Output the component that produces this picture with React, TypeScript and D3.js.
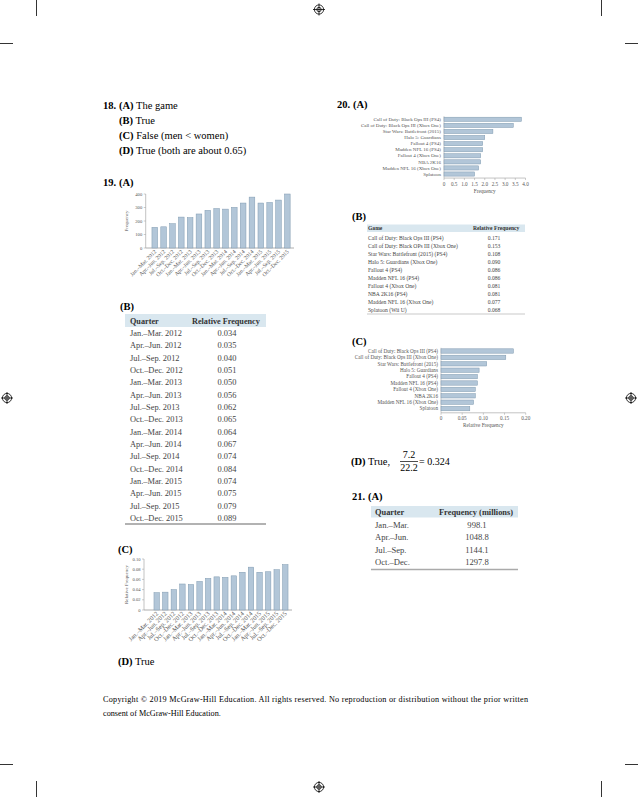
import React from 'react';
import * as d3 from 'd3';

const quarters = [
  'Jan.–Mar. 2012', 'Apr.–Jun. 2012', 'Jul.–Sep. 2012', 'Oct.–Dec. 2012',
  'Jan.–Mar. 2013', 'Apr.–Jun. 2013', 'Jul.–Sep. 2013', 'Oct.–Dec. 2013',
  'Jan.–Mar. 2014', 'Apr.–Jun. 2014', 'Jul.–Sep. 2014', 'Oct.–Dec. 2014',
  'Jan.–Mar. 2015', 'Apr.–Jun. 2015', 'Jul.–Sep. 2015', 'Oct.–Dec. 2015',
];
const quarterFreq = [153, 157, 180, 229, 225, 252, 279, 292, 288, 301, 333, 377, 333, 337, 355, 400];
const quarterRel = [0.034, 0.035, 0.040, 0.051, 0.050, 0.056, 0.062, 0.065, 0.064, 0.067, 0.074, 0.084, 0.074, 0.075, 0.079, 0.089];
const quarterRelText = ['0.034', '0.035', '0.040', '0.051', '0.050', '0.056', '0.062', '0.065', '0.064', '0.067', '0.074', '0.084', '0.074', '0.075', '0.079', '0.089'];
const yTicks19A = [0, 100, 200, 300, 400];
const yTicks19C = [0, 0.02, 0.04, 0.06, 0.08, 0.10];

const games = [
  'Call of Duty: Black Ops III (PS4)', 'Call of Duty: Black Ops III (Xbox One)', 'Star Wars: Battlefront (2015)',
  'Halo 5: Guardians', 'Fallout 4 (PS4)', 'Madden NFL 16 (PS4)', 'Fallout 4 (Xbox One)', 'NBA 2K16',
  'Madden NFL 16 (Xbox One)', 'Splatoon',
];
const gameTableNames = [
  'Call of Duty: Black Ops III (PS4)', 'Call of Duty: Black OPs III (Xbox One)', 'Star Wars: Battlefront (2015) (PS4)',
  'Halo 5: Guardians (Xbox One)', 'Fallout 4 (PS4)', 'Madden NFL 16 (PS4)', 'Fallout 4 (Xbox One)', 'NBA 2K16 (PS4)',
  'Madden NFL 16 (Xbox One)', 'Splatoon (Wii U)',
];
const gameFreq = [3.8, 3.4, 2.4, 2.0, 1.9, 1.9, 1.8, 1.8, 1.7, 1.5];
const gameRel = [0.171, 0.153, 0.108, 0.090, 0.086, 0.086, 0.081, 0.081, 0.077, 0.068];
const gameRelText = ['0.171', '0.153', '0.108', '0.090', '0.086', '0.086', '0.081', '0.081', '0.077', '0.068'];
const xTicks20A = [0, 0.5, 1.0, 1.5, 2.0, 2.5, 3.0, 3.5, 4.0];
const xTicks20C = [0, 0.05, 0.10, 0.15, 0.20];

const seasons = ['Jan.–Mar.', 'Apr.–Jun.', 'Jul.–Sep.', 'Oct.–Dec.'];
const seasonFreqText = ['998.1', '1048.8', '1144.1', '1297.8'];

const SERIF = '"Liberation Serif", "Times New Roman", serif';
const BAR_FILL = '#b2c6d8';
const BAR_STROKE = '#7f99b0';
const AXIS = '#9a9a9a';
const CHART_TEXT = '#555';
const TABLE_TEXT = '#444';
const HEADER_BG = '#d9e7ef';

type VProps = {
  labels: string[]; values: number[]; ticks: number[]; max: number;
  x0: number; x1: number; yTop: number; yBot: number; axisX: number; axisEnd: number;
  fmt: (v: number) => string; title: string; titleX: number; labelSize: number;
};

function VBarChart(p: VProps) {
  const x = d3.scaleBand<string>().domain(p.labels).range([p.x0, p.x1]).paddingInner(0.36).paddingOuter(0.3);
  const y = d3.scaleLinear().domain([0, p.max]).range([p.yBot, p.yTop]);
  const midY = (p.yTop + p.yBot) / 2;
  return (
    <g fontFamily={SERIF}>
      <line x1={p.axisX} x2={p.axisX} y1={p.yTop} y2={p.yBot} stroke={AXIS} strokeWidth={0.6} />
      <line x1={p.axisX} x2={p.axisEnd} y1={p.yBot} y2={p.yBot} stroke={AXIS} strokeWidth={0.8} />
      {p.ticks.map((t) => (
        <g key={t}>
          <line x1={p.axisX - 2} x2={p.axisX} y1={y(t)} y2={y(t)} stroke={AXIS} strokeWidth={0.5} />
          <text x={p.axisX - 3.5} y={y(t) + 1.6} fontSize={4.6} textAnchor="end" fill={CHART_TEXT}>{p.fmt(t)}</text>
        </g>
      ))}
      {p.labels.map((l, i) => (
        <rect key={l} x={x(l)} y={y(p.values[i])} width={x.bandwidth()} height={p.yBot - y(p.values[i])}
          fill={BAR_FILL} stroke={BAR_STROKE} strokeWidth={0.5} />
      ))}
      {p.labels.map((l) => {
        const cx = (x(l) as number) + x.bandwidth() / 2 + 2;
        const cy = p.yBot + 4;
        return (
          <text key={l} x={cx} y={cy} fontSize={p.labelSize} textAnchor="end" fill={CHART_TEXT}
            transform={`rotate(-45 ${cx} ${cy})`}>{l}</text>
        );
      })}
      <text x={p.titleX} y={midY} fontSize={5} textAnchor="middle" fill={CHART_TEXT}
        transform={`rotate(-90 ${p.titleX} ${midY})`}>{p.title}</text>
    </g>
  );
}

type HProps = {
  labels: string[]; values: number[]; ticks: number[]; max: number;
  x0: number; x1: number; yFirst: number; step: number; barH: number;
  fmt: (v: number) => string; title: string; labelSize: number;
};

function HBarChart(p: HProps) {
  const x = d3.scaleLinear().domain([0, p.max]).range([p.x0, p.x1]);
  const n = p.labels.length;
  const y = d3.scaleBand<string>().domain(p.labels)
    .range([p.yFirst - p.step / 2, p.yFirst - p.step / 2 + p.step * n]).paddingInner(1 - p.barH / p.step).paddingOuter((1 - p.barH / p.step) / 2);
  const axisY = p.yFirst - p.step / 2 + p.step * n + 1;
  return (
    <g fontFamily={SERIF}>
      <line x1={p.x0} x2={p.x0} y1={p.yFirst - p.step / 2} y2={axisY} stroke={AXIS} strokeWidth={0.5} />
      <line x1={p.x0} x2={p.x1} y1={axisY} y2={axisY} stroke={AXIS} strokeWidth={0.6} />
      {p.ticks.map((t) => (
        <g key={t}>
          <line x1={x(t)} x2={x(t)} y1={axisY} y2={axisY + 2} stroke={AXIS} strokeWidth={0.5} />
          <text x={x(t)} y={axisY + 7.5} fontSize={5.2} textAnchor="middle" fill={CHART_TEXT}>{p.fmt(t)}</text>
        </g>
      ))}
      {p.labels.map((l, i) => (
        <g key={l}>
          <rect x={p.x0} y={y(l)} width={x(p.values[i]) - p.x0} height={y.bandwidth()}
            fill={BAR_FILL} stroke={BAR_STROKE} strokeWidth={0.5} />
          <text x={p.x0 - 3} y={(y(l) as number) + y.bandwidth() / 2 + 1.7} fontSize={p.labelSize} textAnchor="end" fill={CHART_TEXT}>{l}</text>
        </g>
      ))}
      <text x={(p.x0 + p.x1) / 2} y={axisY + 14.5} fontSize={5.2} textAnchor="middle" fill={CHART_TEXT}>{p.title}</text>
    </g>
  );
}

function Target({ cx, cy }: { cx: number; cy: number }) {
  return (
    <g stroke="#000" fill="none" strokeWidth={0.8}>
      <circle cx={cx} cy={cy} r={4.6} />
      <circle cx={cx} cy={cy} r={2.2} />
      <line x1={cx - 6} x2={cx + 6} y1={cy} y2={cy} />
      <line x1={cx} x2={cx} y1={cy - 6} y2={cy + 6} />
    </g>
  );
}

function Label({ x, y, num, letter, text, numX }: { x: number; y: number; num?: string; letter: string; text?: string; numX?: number }) {
  return (
    <text x={x} y={y} fontFamily={SERIF} fontSize={10.5} fill="#000">
      {num ? <tspan x={numX} fontWeight="bold">{num}</tspan> : null}
      <tspan x={x} fontWeight="bold">{letter}</tspan>
      {text ? <tspan> {text}</tspan> : null}
    </text>
  );
}

export default function App() {
  const t19 = { x0: 125, x1: 266, hTop: 314, hBot: 327, row0: 333, step: 12.33 };
  const rowY19 = d3.scaleLinear().domain([0, 1]).range([t19.row0, t19.row0 + t19.step]);
  const t20 = { x0: 367, x1: 525, hTop: 224.5, hBot: 232, row0: 237.5, step: 8.1 };
  const rowY20 = d3.scaleLinear().domain([0, 1]).range([t20.row0, t20.row0 + t20.step]);
  const t21 = { x0: 371, x1: 518, hTop: 506, hBot: 517.5, row0: 525, step: 12.4 };
  const rowY21 = d3.scaleLinear().domain([0, 1]).range([t21.row0, t21.row0 + t21.step]);

  return (
    <svg width={638} height={797} viewBox="0 0 638 797"
      style={{ position: 'absolute', left: 0, top: 0, background: '#fff' }}>
      <rect x={0} y={0} width={638} height={797} fill="#fff" />

      <g stroke="#000" strokeWidth={0.8}>
        <line x1={36.5} x2={36.5} y1={0} y2={16} />
        <line x1={601.5} x2={601.5} y1={0} y2={16} />
        <line x1={0} x2={13} y1={43.5} y2={43.5} />
        <line x1={625} x2={638} y1={43.5} y2={43.5} />
        <line x1={0} x2={13} y1={764.5} y2={764.5} />
        <line x1={625} x2={638} y1={764.5} y2={764.5} />
        <line x1={36.5} x2={36.5} y1={781} y2={797} />
        <line x1={601.5} x2={601.5} y1={781} y2={797} />
      </g>
      <Target cx={319} cy={9.5} />
      <Target cx={7} cy={398} />
      <Target cx={631} cy={398} />
      <Target cx={319} cy={787} />

      <Label x={119} numX={103} y={108.5} num="18." letter="(A)" text="The game" />
      <Label x={119} y={123.5} letter="(B)" text="True" />
      <Label x={119} y={139} letter="(C)" text="False (men < women)" />
      <Label x={119} y={154} letter="(D)" text="True (both are about 0.65)" />

      <Label x={119} numX={103} y={186} num="19." letter="(A)" />
      <VBarChart labels={quarters} values={quarterFreq} ticks={yTicks19A} max={400}
        x0={149.3} x1={292.8} yTop={194} yBot={248} axisX={145.7} axisEnd={294}
        fmt={(v) => String(v)} title="Frequency" titleX={128} labelSize={5.6} />

      <Label x={120} y={309.5} letter="(B)" />
      <g fontFamily={SERIF}>
        <rect x={t19.x0} y={t19.hTop} width={t19.x1 - t19.x0} height={t19.hBot - t19.hTop} fill={HEADER_BG} />
        <text x={130} y={323.5} fontSize={8.2} fontWeight="bold" fill="#333">Quarter</text>
        <text x={192} y={323.5} fontSize={8.2} fontWeight="bold" fill="#333">Relative Frequency</text>
        {quarters.map((q, i) => (
          <g key={q}>
            <text x={130} y={rowY19(i) + 3} fontSize={8.4} fill={TABLE_TEXT}>{q}</text>
            <text x={227} y={rowY19(i) + 3} fontSize={8.4} fill={TABLE_TEXT} textAnchor="middle">{quarterRelText[i]}</text>
          </g>
        ))}
        <line x1={t19.x0} x2={t19.x1} y1={524} y2={524} stroke="#999" strokeWidth={1.5} />
      </g>

      <Label x={118} y={552.5} letter="(C)" />
      <VBarChart labels={quarters} values={quarterRel} ticks={yTicks19C} max={0.10}
        x0={151.4} x1={290.6} yTop={559} yBot={610} axisX={144} axisEnd={292}
        fmt={(v) => (v === 0 ? '0' : v.toFixed(2))} title="Relative Frequency" titleX={128} labelSize={6.3} />

      <Label x={118} y={665} letter="(D)" text="True" />

      <Label x={353} numX={337} y={108} num="20." letter="(A)" />
      <HBarChart labels={games} values={gameFreq} ticks={xTicks20A} max={4}
        x0={444} x1={525.5} yFirst={119.3} step={6.08} barH={4.2}
        fmt={(v) => (v === 0 ? '0' : v.toFixed(1))} title="Frequency" labelSize={5} />

      <Label x={352} y={220} letter="(B)" />
      <g fontFamily={SERIF}>
        <rect x={t20.x0} y={t20.hTop} width={t20.x1 - t20.x0} height={t20.hBot - t20.hTop} fill={HEADER_BG} />
        <text x={368} y={230.3} fontSize={5.6} fontWeight="bold" fill="#333">Game</text>
        <text x={473} y={230.3} fontSize={5.6} fontWeight="bold" fill="#333">Relative Frequency</text>
        {gameTableNames.map((g, i) => (
          <g key={g}>
            <text x={368} y={rowY20(i) + 2} fontSize={5.6} fill={TABLE_TEXT}>{g}</text>
            <text x={494} y={rowY20(i) + 2} fontSize={5.6} fill={TABLE_TEXT} textAnchor="middle">{gameRelText[i]}</text>
          </g>
        ))}
        <line x1={t20.x0} x2={t20.x1} y1={314} y2={314} stroke="#bbb" strokeWidth={0.8} />
      </g>

      <Label x={352} y={345} letter="(C)" />
      <HBarChart labels={games} values={gameRel} ticks={xTicks20C} max={0.2}
        x0={441} x1={525.7} yFirst={351} step={6.4} barH={4.4}
        fmt={(v) => (v === 0 ? '0' : v.toFixed(2))} title="Relative Frequency" labelSize={5.2} />

      <g fontFamily={SERIF} fill="#000">
        <text x={351} y={465} fontSize={10.5}><tspan fontWeight="bold">(D)</tspan> True,</text>
        <text x={409} y={458} fontSize={10} textAnchor="middle">7.2</text>
        <line x1={400} x2={418} y1={461.5} y2={461.5} stroke="#000" strokeWidth={0.7} />
        <text x={409} y={471} fontSize={10} textAnchor="middle">22.2</text>
        <text x={419} y={465} fontSize={10}>= 0.324</text>
      </g>

      <Label x={368} numX={352} y={500} num="21." letter="(A)" />
      <g fontFamily={SERIF}>
        <rect x={t21.x0} y={t21.hTop} width={t21.x1 - t21.x0} height={t21.hBot - t21.hTop} fill={HEADER_BG} />
        <text x={375} y={514.5} fontSize={8.4} fontWeight="bold" fill="#333">Quarter</text>
        <text x={439} y={514.5} fontSize={8.4} fontWeight="bold" fill="#333">Frequency (millions)</text>
        {seasons.map((s, i) => (
          <g key={s}>
            <text x={375} y={rowY21(i) + 3} fontSize={8.6} fill={TABLE_TEXT}>{s}</text>
            <text x={477} y={rowY21(i) + 3} fontSize={8.6} fill={TABLE_TEXT} textAnchor="middle">{seasonFreqText[i]}</text>
          </g>
        ))}
        <line x1={t21.x0} x2={t21.x1} y1={569.5} y2={569.5} stroke="#aaa" strokeWidth={1.5} />
      </g>

      <g fontFamily={SERIF} fontSize={8.2} fill="#000">
        <text x={103} y={702} textLength={425} lengthAdjust="spacing">Copyright © 2019 McGraw-Hill Education.  All rights reserved.  No reproduction or distribution without the prior written</text>
        <text x={103} y={716}>consent of McGraw-Hill Education.</text>
      </g>
    </svg>
  );
}
